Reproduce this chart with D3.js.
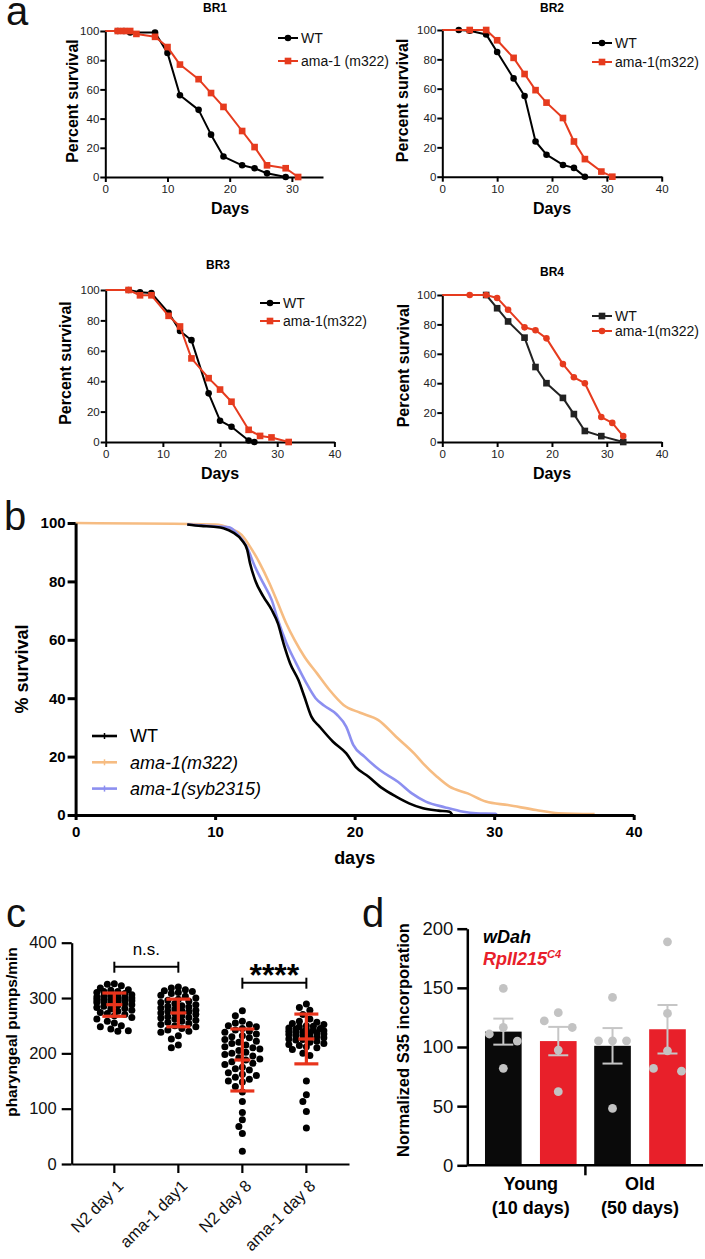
<!DOCTYPE html>
<html>
<head>
<meta charset="utf-8">
<script src="https://cdn.jsdelivr.net/npm/d3@7"></script>
<style>
  body { margin: 0; background: #fff; }
  svg text { font-family: "Liberation Sans", Arial, Helvetica, sans-serif; }
</style>
</head>
<body>
<div id="fig"></div>
<script>
// ---------- panel a: four biological replicates ----------
const brYTicks = [0, 20, 40, 60, 80, 100];

const br1DaysWT  = [0, 2, 3, 4, 8, 10, 12, 15, 17, 19, 22, 24, 26, 29];
const br1SurvWT  = [100, 100, 100, 99, 99, 85, 56, 46, 29, 14, 8, 6, 2.5, 0];
const br1DaysAma = [0, 2, 3, 4, 5, 8, 10, 12, 15, 17, 19, 22, 24, 26, 29, 31];
const br1SurvAma = [100, 100, 100, 100, 98, 96, 89, 77, 67, 57.5, 48, 31.5, 20.5, 8, 6, 0];

const br2DaysWT  = [0, 3, 5, 8, 10, 13, 15, 17, 19, 22, 24, 26];
const br2SurvWT  = [100, 100, 99.5, 97, 85, 67, 55, 24, 15, 8, 6, 0];
const br2DaysAma = [0, 5, 8, 10, 13, 15, 17, 19, 22, 24, 26, 29, 31];
const br2SurvAma = [100, 100, 100, 93, 81, 70, 59, 50.5, 40, 24, 12, 3.5, 0];

const br3DaysWT  = [0, 4, 6, 8, 11, 13, 15, 18, 20, 22, 25, 26];
const br3SurvWT  = [100, 100, 98.5, 98, 85, 73, 67, 32, 14, 10, 1, 0];
const br3DaysAma = [0, 4, 6, 8, 11, 13, 15, 18, 20, 22, 25, 27, 29, 32];
const br3SurvAma = [100, 100, 96.5, 96.5, 83, 76, 55, 42, 34.5, 26.5, 8, 4, 3, 0];

const br4DaysWT  = [0, 8, 10, 12, 15, 17, 19, 22, 24, 26, 29, 33];
const br4SurvWT  = [100, 100, 91, 82, 71, 51, 40, 30, 19, 7.5, 4, 0];
const br4DaysAma = [0, 5, 8, 10, 12, 15, 17, 19, 22, 24, 26, 29, 31, 33];
const br4SurvAma = [100, 100, 100, 98, 90, 78, 76, 70.5, 53, 44, 40, 17, 13, 4];

// ---------- panel b: pooled survival ----------
const bXTicks = [0, 10, 20, 30, 40];
const bYTicks = [0, 20, 40, 60, 80, 100];
const bDaysWT   = [8, 9, 9.9, 10.6, 11.3, 11.9, 12.3, 12.5, 12.86, 13.46, 14.06, 14.5, 14.9, 15.37, 15.97, 16.4, 16.9, 17.5, 18.45, 19.4, 20.07, 21, 22, 22.97, 23.9, 24.9, 26, 26.8, 27];
const bSurvWT   = [99.5, 99, 98.7, 98.2, 96.7, 94.2, 90.8, 86.2, 80.5, 74.8, 70.2, 65.6, 58.8, 52, 46.2, 40.5, 33.7, 30.2, 25.1, 21.1, 16.5, 13.1, 9.1, 6.3, 4, 2.3, 1.5, 1.1, 0];
const bDaysM322 = [0, 10, 11.07, 11.9, 12.5, 13.2, 13.9, 14.5, 15.1, 15.7, 16.4, 17.3, 18.2, 19.2, 20.4, 21.7, 22.97, 24.26, 24.9, 25.9, 26.8, 28.1, 29.4, 31, 33, 34.6, 37.2];
const bSurvM322 = [100, 99.5, 98.2, 95.9, 91.9, 86.2, 79.3, 72.5, 65.6, 59.9, 54.2, 48.5, 42.8, 37.7, 35, 32.5, 26.8, 21.1, 17.7, 13.1, 9.7, 7.4, 4.6, 3.4, 1.7, 0.6, 0.3];
const bDaysSyb  = [8, 9.5, 11, 11.55, 12.26, 12.86, 13.46, 14.06, 14.5, 15.1, 15.8, 16.5, 17.2, 17.8, 18.7, 19.4, 19.9, 20.7, 21.8, 23.1, 24.1, 25.1, 26.5, 27.8, 28.7, 30.1, 30.2];
const bSurvSyb  = [99.5, 99, 98.5, 96.5, 91.9, 85, 79.3, 73.6, 66.8, 59, 52, 45.5, 40, 37.5, 34.5, 30.2, 24, 20, 15.4, 11.4, 7.4, 4.6, 2.6, 1.1, 0.6, 0.4, 0];

// ---------- panel c: pharyngeal pumping ----------
const cCategories = ["N2 day 1", "ama-1 day1", "N2 day 8", "ama-1 day 8"];
const cYTicks = [0, 100, 200, 300, 400];
const cN2d1  = [326, 325, 322, 318, 315, 314, 312, 312, 310, 308, 306, 305, 304, 303, 302, 301, 300, 300, 299, 298, 297, 296, 295, 295, 294, 293, 292, 290, 289, 288, 287, 285, 283, 281, 280, 278, 276, 274, 272, 270, 268, 265, 262, 258, 255, 250, 248, 244, 241, 240];
const cAmad1 = [320, 318, 315, 313, 312, 310, 308, 305, 303, 300, 298, 296, 294, 292, 290, 288, 286, 285, 284, 282, 280, 278, 277, 276, 275, 273, 272, 270, 268, 266, 265, 264, 262, 260, 258, 256, 254, 252, 250, 248, 245, 242, 240, 238, 232, 226, 215, 210];
const cN2d8  = [277, 268, 258, 255, 252, 250, 248, 245, 242, 240, 238, 235, 232, 230, 228, 225, 222, 220, 218, 215, 212, 210, 208, 205, 202, 200, 198, 195, 192, 190, 188, 185, 182, 180, 175, 172, 170, 165, 162, 160, 157, 153, 150, 148, 140, 130, 113, 93, 80, 68, 55, 23];
const cAmad8 = [289, 283, 278, 270, 262, 258, 256, 254, 252, 250, 249, 248, 246, 245, 244, 243, 242, 241, 240, 239, 238, 237, 236, 235, 234, 233, 232, 230, 229, 228, 226, 225, 224, 222, 220, 218, 216, 214, 212, 210, 207, 200, 196, 150, 125, 113, 95, 65];
const cMeans = [288, 273, 188, 226];
const cSDs   = [21, 25, 56, 45];

// ---------- panel d: S35 incorporation ----------
const dGroups = ["Young", "Old"];
const dGroupSub = ["(10 days)", "(50 days)"];
const dGenotypes = ["wDah", "RpII215"];
const dYTicks = [0, 50, 100, 150, 200];
const dMeanWDah = [113, 101];
const dMeanRpII = [105, 115];
const dSemWDah  = [11, 15];
const dSemRpII  = [12, 20.5];
const dDotsYoungWDah = [149.5, 116.5, 111, 105, 82];
const dDotsYoungRpII = [129, 122, 116.5, 97.4, 62.2];
const dDotsOldWDah   = [141.9, 105.2, 105.2, 105.2, 48.1];
const dDotsOldRpII   = [188.9, 128.4, 96.8, 81.9, 79.6];

const RED = "#e63b1e";

const svg = d3.select("#fig").append("svg")
    .attr("width", 705)
    .attr("height", 1259);

// panel letters
[["a", 6, 25], ["b", 4, 530], ["c", 6, 927], ["d", 362, 927]].forEach(([t, x, y]) => {
    svg.append("text").attr("x", x).attr("y", y)
        .attr("font-family", "'Open Sans', 'Noto Sans', sans-serif")
        .attr("font-size", 40).attr("fill", "#111").text(t);
});

// ================= panel a =================
const brPanels = [
    {title: "BR1", tx: 215, ty: 12, xMax: 35, xr: [105.3, 323], yr: [177, 31], xTicks: [0, 10, 20, 30],
     ylx: 72, dx: 230, dy: 214, lx: 278, ly: [38, 61], amaLabel: "ama-1 (m322)",
     series: [
        {name: "WT", days: br1DaysWT, surv: br1SurvWT, color: "#000", shape: "circle"},
        {name: "ama", days: br1DaysAma, surv: br1SurvAma, color: RED, shape: "square"}]},
    {title: "BR2", tx: 552, ty: 12, xMax: 40, xr: [442.3, 661.7], yr: [176.7, 30], xTicks: [0, 10, 20, 30, 40],
     ylx: 402, dx: 552, dy: 214, lx: 592, ly: [43, 62], amaLabel: "ama-1(m322)",
     series: [
        {name: "WT", days: br2DaysWT, surv: br2SurvWT, color: "#000", shape: "circle"},
        {name: "ama", days: br2DaysAma, surv: br2SurvAma, color: RED, shape: "square"}]},
    {title: "BR3", tx: 218, ty: 269, xMax: 40, xr: [105.7, 334.4], yr: [442, 290], xTicks: [0, 10, 20, 30, 40],
     ylx: 65, dx: 220, dy: 479, lx: 260, ly: [303, 321], amaLabel: "ama-1(m322)",
     series: [
        {name: "WT", days: br3DaysWT, surv: br3SurvWT, color: "#000", shape: "circle"},
        {name: "ama", days: br3DaysAma, surv: br3SurvAma, color: RED, shape: "square"}]},
    {title: "BR4", tx: 552, ty: 276, xMax: 40, xr: [442.3, 661.6], yr: [442, 295], xTicks: [0, 10, 20, 30, 40],
     ylx: 403, dx: 552, dy: 479, lx: 592, ly: [316, 331], amaLabel: "ama-1(m322)",
     series: [
        {name: "WT", days: br4DaysWT, surv: br4SurvWT, color: "#222", shape: "square"},
        {name: "ama", days: br4DaysAma, surv: br4SurvAma, color: RED, shape: "circle"}]}
];

const symbolFor = shape => d3.symbol()
    .type(shape === "square" ? d3.symbolSquare : d3.symbolCircle)
    .size(shape === "square" ? 44 : 34);

function drawBR(p) {
    const x = d3.scaleLinear().domain([0, p.xMax]).range(p.xr);
    const y = d3.scaleLinear().domain([0, 100]).range(p.yr);
    const g = svg.append("g").attr("class", "brG");

    g.append("g").attr("class", "ax")
        .attr("transform", "translate(0," + p.yr[0] + ")")
        .call(d3.axisBottom(x).tickValues(p.xTicks).tickSize(5).tickSizeOuter(0).tickPadding(3));
    g.append("g").attr("class", "ax")
        .attr("transform", "translate(" + p.xr[0] + ",0)")
        .call(d3.axisLeft(y).tickValues(brYTicks).tickSize(5).tickSizeOuter(0).tickPadding(1));
    g.selectAll(".ax path, .ax line").attr("stroke", "#000").attr("stroke-width", 2);
    g.selectAll(".ax text").attr("font-size", 11.5).attr("fill", "#222");

    const line = d3.line().x(d => x(d[0])).y(d => y(d[1]));
    p.series.forEach(s => {
        const pts = d3.zip(s.days, s.surv);
        g.append("path").datum(pts)
            .attr("fill", "none").attr("stroke", s.color).attr("stroke-width", 2)
            .attr("stroke-linejoin", "round")
            .attr("d", line);
        g.selectAll(null).data(pts.filter(d => d[0] > 0)).join("path")
            .attr("transform", d => "translate(" + x(d[0]) + "," + y(d[1]) + ")")
            .attr("d", symbolFor(s.shape)())
            .attr("fill", s.color);
    });

    // title, labels
    g.append("text").attr("x", p.tx).attr("y", p.ty).attr("text-anchor", "middle")
        .attr("font-size", 12).attr("font-weight", "bold").text(p.title);
    g.append("text").attr("text-anchor", "middle").attr("font-size", 16).attr("font-weight", "bold")
        .attr("transform", "translate(" + (p.ylx + 6) + "," + ((p.yr[0] + p.yr[1]) / 2 - 3) + ") rotate(-90)")
        .text("Percent survival");
    g.append("text").attr("x", p.dx).attr("y", p.dy).attr("text-anchor", "middle")
        .attr("font-size", 16).attr("font-weight", "bold").text("Days");

    // legend
    p.series.forEach((s, i) => {
        const ly = p.ly[i];
        g.append("line").attr("x1", p.lx).attr("x2", p.lx + 20).attr("y1", ly).attr("y2", ly)
            .attr("stroke", s.color).attr("stroke-width", 2);
        g.append("path").attr("transform", "translate(" + (p.lx + 10) + "," + ly + ")")
            .attr("d", symbolFor(s.shape)()).attr("fill", s.color);
        g.append("text").attr("x", p.lx + 23).attr("y", ly).attr("dy", "0.36em")
            .attr("font-size", 14).attr("fill", "#111")
            .text(i === 0 ? "WT" : p.amaLabel);
    });
}
brPanels.forEach(drawBR);

// ================= panel b =================
(function () {
    const x = d3.scaleLinear().domain([0, 40]).range([75.6, 633.7]);
    const y = d3.scaleLinear().domain([0, 100]).range([815, 523]);
    const g = svg.append("g").attr("class", "bG");

    const series = [
        {days: bDaysM322, surv: bSurvM322, color: "#f6bc82", label: "ama-1(m322)", italic: true},
        {days: bDaysSyb, surv: bSurvSyb, color: "#8c8ff0", label: "ama-1(syb2315)", italic: true},
        {days: bDaysWT, surv: bSurvWT, color: "#000", label: "WT", italic: false}
    ];
    const line = d3.line().x(d => x(d[0])).y(d => y(d[1])).curve(d3.curveMonotoneX);
    series.forEach(s => {
        g.append("path").datum(d3.zip(s.days, s.surv))
            .attr("fill", "none").attr("stroke", s.color).attr("stroke-width", 2.6)
            .attr("d", line);
    });

    g.append("g").attr("class", "ax")
        .attr("transform", "translate(0,815)")
        .call(d3.axisBottom(x).tickValues(bXTicks).tickSize(5).tickSizeOuter(0).tickPadding(6));
    g.append("g").attr("class", "ax")
        .attr("transform", "translate(75.6,0)")
        .call(d3.axisLeft(y).tickValues(bYTicks).tickSize(8).tickSizeOuter(0).tickPadding(2));
    g.selectAll(".ax path, .ax line").attr("stroke", "#000").attr("stroke-width", 3);
    g.selectAll(".ax text").attr("font-size", 15).attr("font-weight", "bold").attr("fill", "#000");

    g.append("text").attr("text-anchor", "middle").attr("font-size", 18).attr("font-weight", "bold")
        .attr("transform", "translate(28,669) rotate(-90)").text("% survival");
    g.append("text").attr("x", x(20)).attr("y", 864).attr("text-anchor", "middle")
        .attr("font-size", 18).attr("font-weight", "bold").text("days");

    // legend (WT first, as in the figure)
    [series[2], series[0], series[1]].forEach((s, i) => {
        const ly = 736 + i * 26.3;
        g.append("line").attr("x1", 92).attr("x2", 117).attr("y1", ly).attr("y2", ly)
            .attr("stroke", s.color).attr("stroke-width", 2.6);
        g.append("line").attr("x1", 104.5).attr("x2", 104.5).attr("y1", ly - 3).attr("y2", ly + 3)
            .attr("stroke", s.color).attr("stroke-width", 1.5);
        g.append("text").attr("x", 130).attr("y", ly).attr("dy", "0.36em")
            .attr("font-size", 18).attr("font-style", s.italic ? "italic" : "normal")
            .text(s.label);
    });
})();

// column scatter: each dot takes the slot (within +-maxOff) that overlaps least
function swarm(values, yScale, diam, maxOff, step) {
    const slots = d3.range(-maxOff, maxOff + 0.001, step).sort((a, b) => Math.abs(a) - Math.abs(b));
    const placed = [];
    values.forEach(v => {
        const y = yScale(v);
        let best = 0, bestPen = Infinity;
        slots.forEach(s => {
            let pen = 0;
            placed.forEach(p => {
                const d = Math.hypot(p.dx - s, p.y - y);
                if (d < diam) pen += diam - d;
            });
            if (pen < bestPen - 1e-6) { bestPen = pen; best = s; }
        });
        placed.push({v: v, dx: best, y: y});
    });
    return placed;
}

// ================= panel c =================
(function () {
    const groups = [cN2d1, cAmad1, cN2d8, cAmad8];
    const x = d3.scaleBand().domain(cCategories).range([71.7, 349]).paddingInner(0).paddingOuter(0.166);
    const cx = c => x(c) + x.bandwidth() / 2;
    const y = d3.scaleLinear().domain([0, 400]).range([1164, 942.7]);
    const g = svg.append("g").attr("class", "cG");

    const xAx = g.append("g").attr("class", "ax")
        .attr("transform", "translate(0,1164)")
        .call(d3.axisBottom(x).tickSize(9).tickSizeOuter(0).tickPadding(0));
    xAx.selectAll("text")
        .attr("text-anchor", "end").attr("x", 0).attr("y", 0).attr("dy", "0.35em")
        .attr("transform", "translate(6,19) rotate(-45)");
    g.append("g").attr("class", "ax")
        .attr("transform", "translate(71.7,0)")
        .call(d3.axisLeft(y).tickValues(cYTicks).tickSize(10).tickSizeOuter(0).tickPadding(5));
    g.selectAll(".ax path, .ax line").attr("stroke", "#000").attr("stroke-width", 2.2);
    g.selectAll(".ax text").attr("font-size", 16.5).attr("fill", "#111");

    groups.forEach((vals, i) => {
        const c = cx(cCategories[i]);
        const dots = swarm(vals, y, 7, 17.5, 3.5);
        g.selectAll(null).data(dots).join("circle")
            .attr("cx", d => c + d.dx).attr("cy", d => d.y).attr("r", 3.5).attr("fill", "#000");
        const m = cMeans[i], s = cSDs[i];
        const eb = g.append("g").attr("stroke", "#e8341c").attr("stroke-width", 3.2);
        eb.append("line").attr("x1", c).attr("x2", c).attr("y1", y(m - s)).attr("y2", y(m + s));
        [m - s, m + s].forEach(v => eb.append("line").attr("x1", c - 12).attr("x2", c + 12)
            .attr("y1", y(v)).attr("y2", y(v)));
        eb.append("line").attr("x1", c - 8).attr("x2", c + 8).attr("y1", y(m)).attr("y2", y(m));
    });

    // significance brackets
    [[0, 1, 966.7, "n.s."], [2, 3, 982.7, "****"]].forEach(([a, b, by, lab]) => {
        const x1 = cx(cCategories[a]), x2 = cx(cCategories[b]);
        const br = g.append("g").attr("stroke", "#000").attr("stroke-width", 2);
        br.append("line").attr("x1", x1).attr("x2", x2).attr("y1", by).attr("y2", by);
        [x1, x2].forEach(xx => br.append("line").attr("x1", xx).attr("x2", xx).attr("y1", by - 5).attr("y2", by + 6));
        if (lab === "n.s.") {
            g.append("text").attr("x", (x1 + x2) / 2).attr("y", by - 12).attr("text-anchor", "middle")
                .attr("font-size", 17).text(lab);
        } else {
            g.append("text").attr("x", (x1 + x2) / 2).attr("y", by + 3).attr("text-anchor", "middle")
                .attr("font-size", 32).attr("font-weight", "bold").text(lab);
        }
    });

    g.append("text").attr("text-anchor", "middle").attr("font-size", 15.5).attr("font-weight", "bold")
        .attr("transform", "translate(17,1032) rotate(-90)").text("pharyngeal pumps/min");
})();

// ================= panel d =================
(function () {
    const y = d3.scaleLinear().domain([0, 200]).range([1165.3, 928.7]);
    const x0 = d3.scaleBand().domain(dGroups).range([476.2, 694.6]);
    const x1 = d3.scaleBand().domain(dGenotypes).range([0, x0.bandwidth()]).paddingInner(0.333).paddingOuter(0.16);
    const g = svg.append("g").attr("class", "dG");

    const rows = [];
    dGroups.forEach((grp, i) => {
        rows.push({grp: grp, gen: "wDah", mean: dMeanWDah[i], sem: dSemWDah[i], dots: i === 0 ? dDotsYoungWDah : dDotsOldWDah, color: "#0a0a0a"});
        rows.push({grp: grp, gen: "RpII215", mean: dMeanRpII[i], sem: dSemRpII[i], dots: i === 0 ? dDotsYoungRpII : dDotsOldRpII, color: "#e8202a"});
    });

    rows.forEach(r => {
        const bx = x0(r.grp) + x1(r.gen);
        const c = bx + x1.bandwidth() / 2;
        g.append("rect").attr("x", bx).attr("width", x1.bandwidth())
            .attr("y", y(r.mean)).attr("height", y(0) - y(r.mean)).attr("fill", r.color);
        const eb = g.append("g").attr("stroke", "#c6c6c6").attr("stroke-width", 2);
        eb.append("line").attr("x1", c).attr("x2", c).attr("y1", y(r.mean - r.sem)).attr("y2", y(r.mean + r.sem));
        [r.mean - r.sem, r.mean + r.sem].forEach(v => eb.append("line")
            .attr("x1", c - 10).attr("x2", c + 10).attr("y1", y(v)).attr("y2", y(v)));
        const dots = swarm(r.dots, y, 20, 14, 14);
        g.selectAll(null).data(dots).join("circle")
            .attr("cx", d => c + d.dx).attr("cy", d => d.y).attr("r", 4.4).attr("fill", "#c3c3c3");
    });

    g.append("g").attr("class", "ax")
        .attr("transform", "translate(467.3,0)")
        .call(d3.axisLeft(y).tickValues(dYTicks).tickSize(10).tickSizeOuter(0).tickPadding(4));
    g.append("line").attr("x1", 467.3).attr("x2", 703).attr("y1", y(0)).attr("y2", y(0))
        .attr("stroke", "#000").attr("stroke-width", 2.5);
    g.append("line").attr("x1", x0("Old")).attr("x2", x0("Old")).attr("y1", y(0)).attr("y2", y(0) + 10)
        .attr("stroke", "#000").attr("stroke-width", 2.5);
    g.selectAll(".ax path, .ax line").attr("stroke", "#000").attr("stroke-width", 2.5);
    g.selectAll(".ax text").attr("font-size", 18.5).attr("fill", "#111");

    dGroups.forEach((grp, i) => {
        const c = x0(grp) + x0.bandwidth() / 2;
        g.append("text").attr("x", c).attr("y", 1190).attr("text-anchor", "middle")
            .attr("font-size", 18).attr("font-weight", "bold").text(grp);
        g.append("text").attr("x", c).attr("y", 1214).attr("text-anchor", "middle")
            .attr("font-size", 18).attr("font-weight", "bold").text(dGroupSub[i]);
    });

    g.append("text").attr("x", 483).attr("y", 943).attr("font-size", 18)
        .attr("font-weight", "bold").attr("font-style", "italic").text("wDah");
    const rl = g.append("text").attr("x", 483).attr("y", 965).attr("font-size", 18)
        .attr("font-weight", "bold").attr("font-style", "italic").attr("fill", "#e8202a");
    rl.append("tspan").text("RpII215");
    rl.append("tspan").attr("dy", -7).attr("font-size", 11).text("C4");

    g.append("text").attr("text-anchor", "middle").attr("font-size", 16.5).attr("font-weight", "bold")
        .attr("transform", "translate(409,1040) rotate(-90)").text("Normalized S35 incorporation");
})();
</script>
</body>
</html>
